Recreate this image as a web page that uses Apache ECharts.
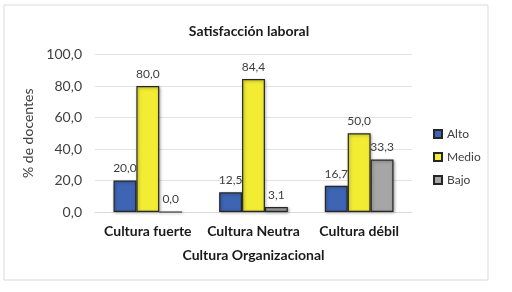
<!DOCTYPE html>
<html>
<head>
<meta charset="utf-8">
<script src="https://cdn.jsdelivr.net/npm/echarts@6/dist/echarts.min.js"></script>
<style>
  html, body { margin: 0; padding: 0; background: #fff; }
  #chart { width: 512px; height: 292px; }
</style>
</head>
<body>
<div id="chart"></div>
<script>
// data
var categories = ["Cultura fuerte", "Cultura Neutra", "Cultura débil"];
var alto = [20.0, 12.5, 16.7];
var medio = [80.0, 84.4, 50.0];
var bajo = [0.0, 3.1, 33.3];
var yTicks = [0, 20, 40, 60, 80, 100];

var chartDom = document.getElementById("chart");
var myChart = echarts.init(chartDom);

var fontFam = "Lato, 'Open Sans', sans-serif";

function fmt(v) {
  return v.toFixed(1).replace(".", ",");
}

function makeSeries(name, data, color) {
  return {
    name: name,
    type: "bar",
    data: data,
    barGap: "0%",
    barCategoryGap: "35%",
    itemStyle: {
      color: color,
      borderColor: "#262626",
      borderWidth: 1.2,
      shadowBlur: 3,
      shadowOffsetX: 1,
      shadowOffsetY: 1,
      shadowColor: "rgba(0,0,0,0.35)",
    },
    label: {
      show: true,
      position: "top",
      distance: 6,
      color: "#404040",
      fontFamily: fontFam,
      fontSize: 12,
      formatter: function (p) {
        return fmt(p.value);
      },
    },
  };
}

var option = {
  animation: false,
  backgroundColor: "#fff",
  graphic: [
    {
      type: "rect",
      shape: { x: 4, y: 5, width: 484, height: 275 },
      style: { fill: "none", stroke: "#d9d9d9", lineWidth: 1 },
      silent: true,
    },
  ],
  title: {
    text: "Satisfacción laboral",
    left: 244,
    textAlign: "center",
    top: 19,
    textStyle: {
      fontFamily: fontFam,
      fontSize: 14,
      fontWeight: "bold",
      color: "#1a1a1a",
    },
  },
  legend: {
    orient: "vertical",
    left: 428,
    top: 123,
    itemWidth: 8,
    itemHeight: 8,
    itemGap: 11,
    textStyle: { fontFamily: fontFam, fontSize: 12, color: "#404040" },
    data: [
      { name: "Alto", icon: "rect" },
      { name: "Medio", icon: "rect" },
      { name: "Bajo", icon: "rect" },
    ],
  },
  grid: {
    left: 95,
    right: 100,
    top: 54.5,
    bottom: 80,
  },
  xAxis: {
    type: "category",
    data: categories,
    name: "Cultura Organizacional",
    nameLocation: "middle",
    nameGap: 36,
    nameTextStyle: {
      fontFamily: fontFam,
      fontSize: 14,
      fontWeight: "bold",
      color: "#1a1a1a",
    },
    axisLine: { lineStyle: { color: "#d9d9d9" } },
    axisTick: { show: false },
    axisLabel: {
      interval: 0,
      margin: 12,
      fontFamily: fontFam,
      fontSize: 14,
      fontWeight: "bold",
      color: "#1a1a1a",
    },
  },
  yAxis: {
    type: "value",
    min: yTicks[0],
    max: yTicks[yTicks.length - 1],
    interval: 20,
    name: "% de docentes",
    nameLocation: "middle",
    nameGap: 55,
    nameTextStyle: { fontFamily: fontFam, fontSize: 14, color: "#404040" },
    axisLine: { show: false },
    axisTick: { show: false },
    axisLabel: {
      margin: 13,
      fontFamily: fontFam,
      fontSize: 14,
      color: "#404040",
      formatter: function (v) {
        return fmt(v);
      },
    },
    splitLine: { lineStyle: { color: "#e3e3e3" } },
  },
  series: [
    makeSeries("Alto", alto, "#3e65b4"),
    makeSeries("Medio", medio, "#f2ec33"),
    makeSeries("Bajo", bajo, "#a6a6a6"),
  ],
};

option && myChart.setOption(option);
</script>
</body>
</html>
